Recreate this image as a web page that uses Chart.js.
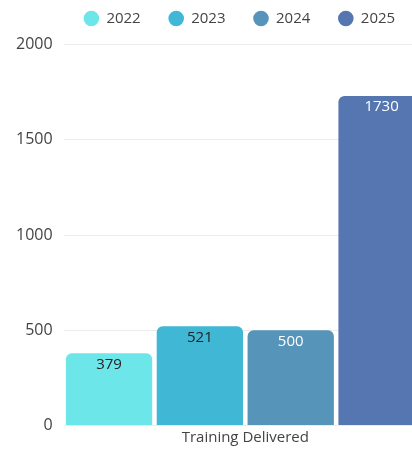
<!DOCTYPE html>
<html>
<head>
<meta charset="utf-8">
<script src="https://cdn.jsdelivr.net/npm/chart.js@4"></script>
<style>
  html, body { margin: 0; padding: 0; background: #fff; overflow: hidden; }
  #wrap { position: relative; width: 474px; height: 449px; }
</style>
</head>
<body>
<div id="wrap"><canvas id="chart"></canvas></div>
<script>
// ── DATA ─────────────────────────────────────────────────────────────────────
const categories = ['Training Delivered'];
const years      = ['2022', '2023', '2024', '2025'];
const delivered  = [379, 521, 500, 1730];
const yTicks     = [0, 500, 1000, 1500, 2000];

// ── STYLE ────────────────────────────────────────────────────────────────────
const barColors   = ['#6ce6e8', '#40b7d5', '#5694ba', '#5576b1'];
const labelColors = ['#222', '#222', '#fff', '#fff'];
const FONT = '"Open Sans", "Noto Sans", sans-serif';

// value printed just under the top edge of each bar
const barValues = {
  id: 'barValues',
  afterDatasetsDraw(chart) {
    const { ctx } = chart;
    ctx.save();
    ctx.font = `15px ${FONT}`;
    ctx.textAlign = 'center';
    ctx.textBaseline = 'middle';
    chart.data.datasets.forEach((ds, i) => {
      const meta = chart.getDatasetMeta(i);
      if (meta.hidden) return;
      meta.data.forEach((bar, j) => {
        ctx.fillStyle = labelColors[i];
        ctx.fillText(String(ds.data[j]), bar.x, bar.y + 11);
      });
    });
    ctx.restore();
  },
};

// blank axes used only as spacers around the plot
const spacer = (position, size) => ({
  type: 'linear', position,
  grid: { display: false }, border: { display: false },
  ticks: { display: false },
  afterFit(s) { if (s.isHorizontal()) s.height = size; else s.width = size; },
});

new Chart(document.getElementById('chart'), {
  type: 'bar',
  data: {
    labels: categories,
    datasets: years.map((y, i) => ({
      label: y,
      data: [delivered[i]],
      backgroundColor: barColors[i],
      borderWidth: 0,
      borderRadius: { topLeft: 6, topRight: 6 },
      borderSkipped: 'bottom',
      categoryPercentage: 1,
      barPercentage: 0.95,
    })),
  },
  options: {
    responsive: true, maintainAspectRatio: false,
    animation: false,
    layout: { padding: { top: -17, left: 5, bottom: -1.5 } },
    plugins: {
      legend: {
        position: 'top',
        labels: {
          usePointStyle: true, pointStyle: 'circle',
          boxWidth: 15, boxHeight: 11, padding: 28,
          color: '#444', font: { family: FONT, size: 15 },
        },
      },
      tooltip: { enabled: false },
    },
    scales: {
      x: {
        grid: { display: false, drawTicks: false },
        border: { display: false },
        ticks: { color: '#444', padding: 3.5, font: { family: FONT, size: 15 } },
      },
      y: {
        min: 0, max: 2000,
        afterBuildTicks(s) { s.ticks = yTicks.map(v => ({ value: v })); },
        grid: { color: '#ececec', drawTicks: false },
        border: { display: false },
        ticks: {
          color: '#444', padding: 11, font: { family: FONT, size: 16 },
          callback: v => String(v),
        },
      },
      headroom: spacer('top', 8.5),
      gutter: spacer('right', 47),
    },
  },
  plugins: [barValues],
});
</script>
</body>
</html>
